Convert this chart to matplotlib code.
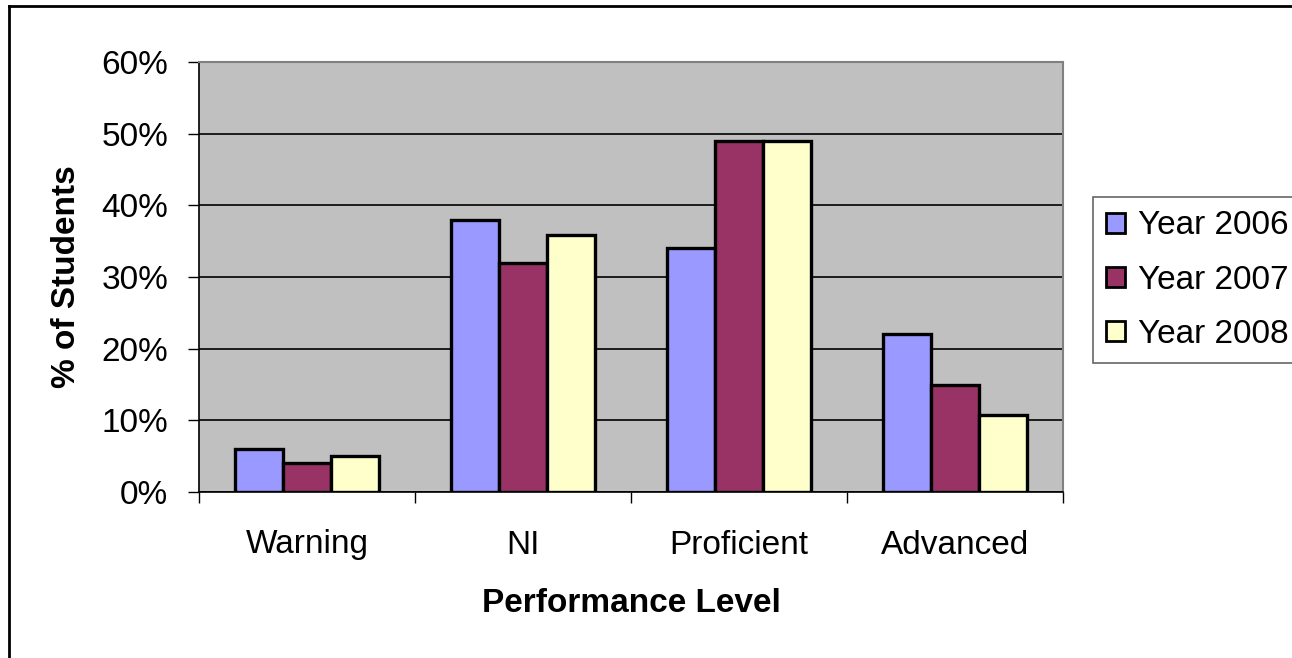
import matplotlib
matplotlib.use("Agg")
import matplotlib.pyplot as plt
import numpy as np
from matplotlib.lines import Line2D
from matplotlib.patches import Patch

plt.rcParams['font.family'] = ['Liberation Sans', 'DejaVu Sans']

categories = ["Warning", "NI", "Proficient", "Advanced"]
series_names = ["Year 2006", "Year 2007", "Year 2008"]
year2006 = [6, 38, 34, 22]
year2007 = [4, 32, 49, 15]
year2008 = [5, 35.8, 49, 10.8]
colors = ["#9999FF", "#993366", "#FFFFCC"]
yticks = [0, 10, 20, 30, 40, 50, 60]

W, H = 1292, 658
FS = 24
fig = plt.figure(figsize=(W / 100, H / 100), dpi=100)
ax = fig.add_axes([199 / W, 1 - 492 / H, (1063 - 199) / W, (492 - 62) / H])
ax.set_facecolor("#C0C0C0")

x = np.arange(len(categories))
bw = 2 / 9
for i, (vals, c, name) in enumerate(zip([year2006, year2007, year2008], colors, series_names)):
    ax.bar(x + (i - 1) * bw, vals, width=bw, color=c, edgecolor="black", linewidth=2.4,
           label=name, zorder=3)

ax.set_xlim(-0.5, len(categories) - 0.5)
ax.set_ylim(0, 60)
ax.set_yticks(yticks)
ax.set_yticklabels([f"{v}%" for v in yticks], fontsize=FS)
ax.yaxis.grid(True, color="black", linewidth=1.2, zorder=1)
ax.set_axisbelow(True)

ax.set_xticks(x)
ax.set_xticklabels(categories, fontsize=FS)
ax.tick_params(axis="x", length=0, pad=27)
ax.set_xticks(np.arange(-0.5, len(categories), 1), minor=True)
ax.tick_params(axis="x", which="minor", length=8, width=1, color="black")
ax.tick_params(axis="y", length=8, width=1, color="black", pad=14)

for s in ["top", "right"]:
    ax.spines[s].set_color("#808080")
    ax.spines[s].set_linewidth(1.5)
ax.spines["left"].set_color("black")
ax.spines["bottom"].set_color("black")
ax.spines["left"].set_linewidth(1.2)
ax.spines["bottom"].set_linewidth(1.2)

ax.set_xlabel("Performance Level", fontsize=FS, fontweight="bold", labelpad=20)
ax.set_ylabel("% of Students", fontsize=FS, fontweight="bold", labelpad=14)

handles = [Patch(facecolor=c, edgecolor="black", linewidth=2) for c in colors]
leg = fig.legend(handles, series_names, loc="upper left",
                 bbox_to_anchor=(1093 / W, 1 - 197 / H), fontsize=FS,
                 frameon=True, fancybox=False, edgecolor="#404040",
                 handlelength=0.55, handleheight=0.55, handletextpad=0.4,
                 labelspacing=0.7, borderpad=0.4, borderaxespad=0)
leg.get_frame().set_linewidth(1.2)

fig.add_artist(Line2D([8.5 / W, 8.5 / W], [0, 1 - 6 / H], transform=fig.transFigure,
                      color="black", linewidth=2))
fig.add_artist(Line2D([8.5 / W, 1], [1 - 6 / H, 1 - 6 / H], transform=fig.transFigure,
                      color="black", linewidth=2))

fig.savefig("out.png", dpi=100)
